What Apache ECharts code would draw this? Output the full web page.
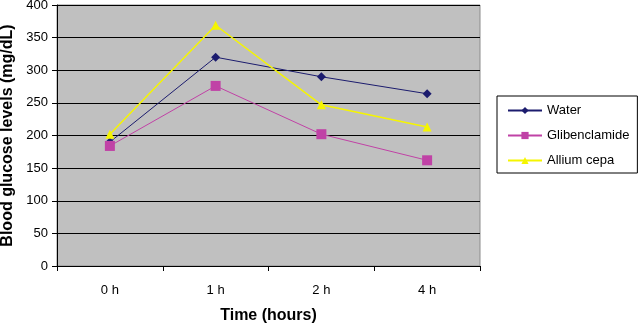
<!DOCTYPE html>
<html>
<head>
<meta charset="utf-8">
<script src="https://cdn.jsdelivr.net/npm/echarts@6/dist/echarts.min.js"></script>
<style>
  html, body { margin: 0; padding: 0; background: #fff; }
  #chart { width: 640px; height: 324px; }
</style>
</head>
<body>
<div id="chart"></div>
<script>
// data
var categories = ['0 h', '1 h', '2 h', '4 h'];
var water = [190, 320, 290, 264];
var glibenclamide = [184, 276, 202, 162];
var alliumCepa = [202, 369, 247, 213];

var chart = echarts.init(document.getElementById('chart'));
var font = 'Liberation Sans, Arial, sans-serif';

chart.setOption({
  animation: false,
  textStyle: { fontFamily: font },
  grid: {
    left: 57,
    right: 160,
    top: 5,
    bottom: 58,
    containLabel: false,
    outerBoundsMode: 'none',
    show: true,
    backgroundColor: '#c0c0c0',
    borderColor: '#8c8c8c',
    borderWidth: 1
  },
  legend: {
    orient: 'vertical',
    left: 497,
    top: 96,
    padding: [8, 8, 6, 10],
    itemGap: 12,
    itemWidth: 34,
    itemHeight: 9,
    borderColor: '#000',
    borderWidth: 1,
    textStyle: { fontSize: 13, color: '#000', fontFamily: font },
    data: ['Water', 'Glibenclamide', 'Allium cepa']
  },
  xAxis: {
    type: 'category',
    data: categories,
    boundaryGap: true,
    name: 'Time (hours)',
    nameLocation: 'middle',
    nameGap: 42,
    nameTextStyle: { fontSize: 16, fontWeight: 'bold', color: '#000', fontFamily: font },
    axisLine: { lineStyle: { color: '#000', width: 1 } },
    axisTick: { show: true, length: 5, lineStyle: { color: '#000' } },
    axisLabel: { fontSize: 13, color: '#000', margin: 18, fontFamily: font },
    splitLine: { show: false }
  },
  yAxis: {
    type: 'value',
    min: 0,
    max: 400,
    interval: 50,
    name: 'Blood glucose levels (mg/dL)',
    nameLocation: 'middle',
    nameGap: 37,
    nameTextStyle: { fontSize: 16, fontWeight: 'bold', color: '#000', fontFamily: font },
    axisLine: { show: true, lineStyle: { color: '#000', width: 1 } },
    axisTick: { show: true, length: 5, lineStyle: { color: '#000' } },
    axisLabel: { fontSize: 13, color: '#000', margin: 9, fontFamily: font },
    splitLine: { show: true, lineStyle: { color: '#000', width: 1 } }
  },
  series: [
    {
      name: 'Water',
      type: 'line',
      data: water,
      symbol: 'diamond',
      symbolSize: 9,
      itemStyle: { color: '#1c1c6e' },
      lineStyle: { color: '#1c1c6e', width: 1 }
    },
    {
      name: 'Glibenclamide',
      type: 'line',
      data: glibenclamide,
      symbol: 'rect',
      symbolSize: 10,
      itemStyle: { color: '#c042a6' },
      lineStyle: { color: '#c042a6', width: 1 }
    },
    {
      name: 'Allium cepa',
      type: 'line',
      data: alliumCepa,
      symbol: 'triangle',
      symbolSize: 9,
      itemStyle: { color: '#f5f500' },
      lineStyle: { color: '#f5f500', width: 1.5 }
    }
  ]
});
</script>
</body>
</html>
